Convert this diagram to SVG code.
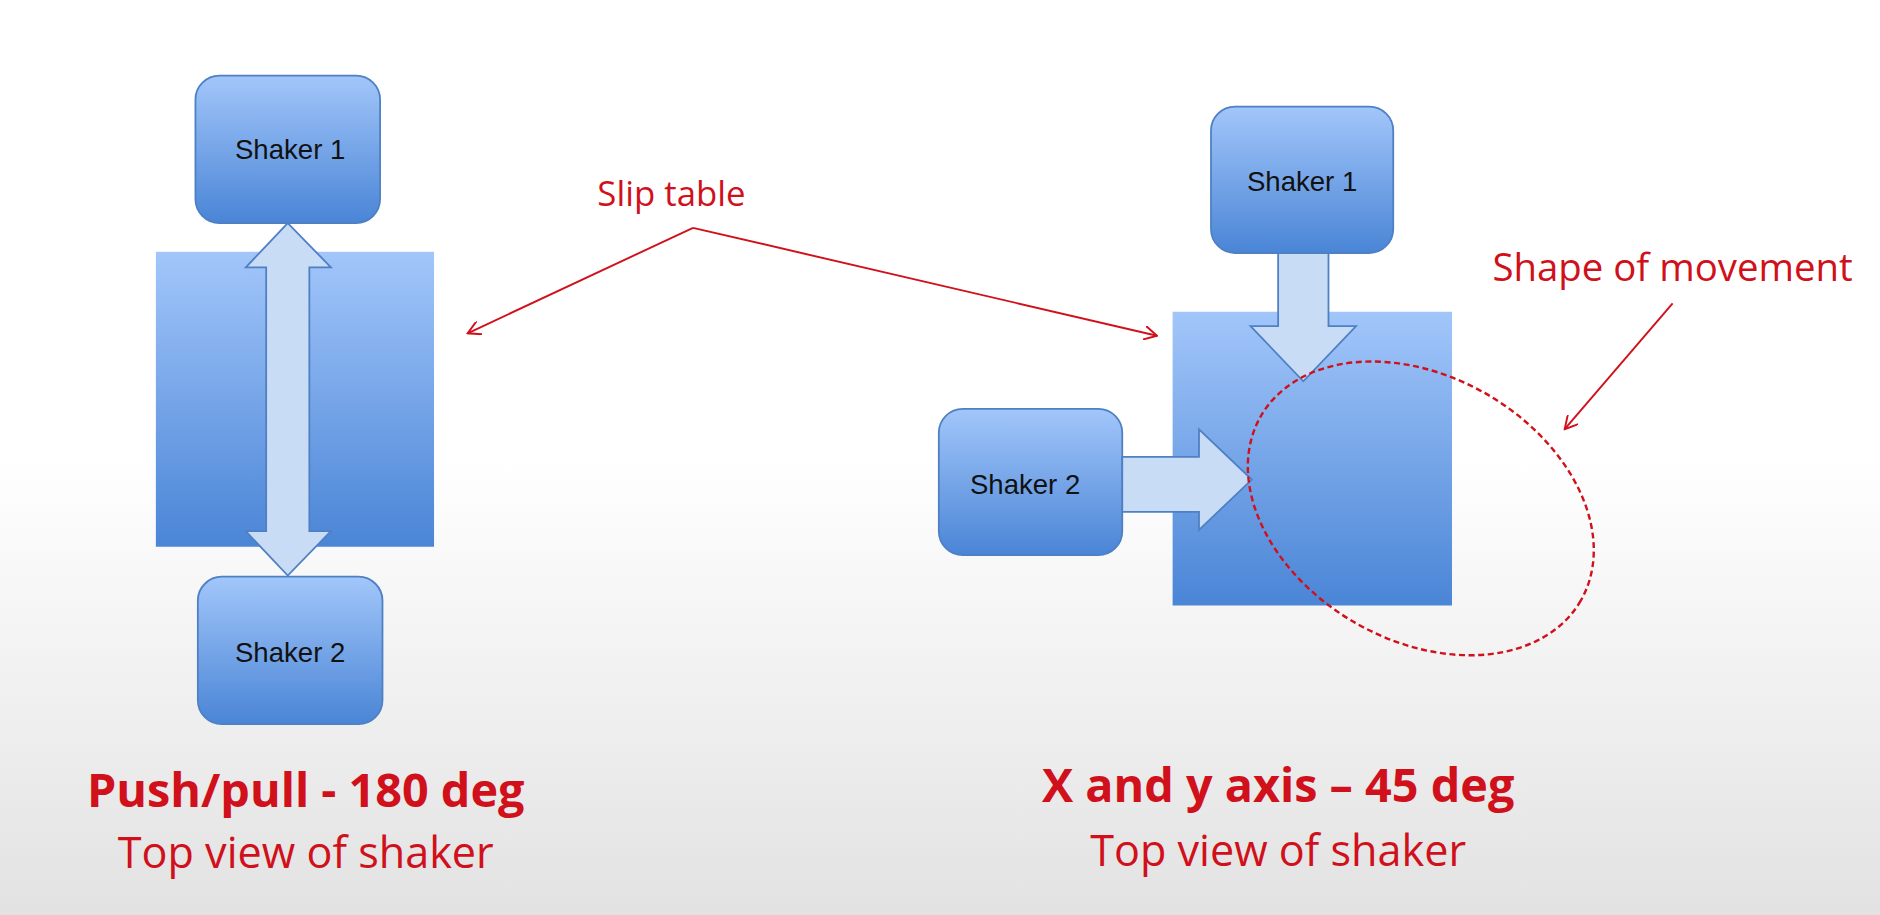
<svg xmlns="http://www.w3.org/2000/svg" width="1880" height="915" viewBox="0 0 1880 915">
<defs>
<linearGradient id="bg" x1="0" y1="0" x2="0" y2="1"><stop offset="0.5" stop-color="#ffffff"/><stop offset="1" stop-color="#e2e2e2"/></linearGradient>
<linearGradient id="blue" x1="0" y1="0" x2="0" y2="1"><stop offset="0" stop-color="#a2c6fa"/><stop offset="1" stop-color="#4a85d6"/></linearGradient>
<marker id="ah" viewBox="0 0 12 12" refX="11" refY="6" markerWidth="12" markerHeight="12" markerUnits="userSpaceOnUse" orient="auto"><path d="M0,0 L11,6 L0,12" fill="none" stroke="#d0101a" stroke-width="1.6"/></marker>
<style>
.box{fill:url(#blue);stroke:#4f80c4;stroke-width:1.5}
.tbl{fill:url(#blue);stroke:none}
.arr{fill:#c9dcf6;stroke:#4f80c4;stroke-width:1.5}
.lbl{font-family:"Liberation Sans",Arial,sans-serif;font-size:23px;fill:#111;text-anchor:middle}
.red{font-family:"Open Sans","Liberation Sans",sans-serif;fill:#d0101a;text-anchor:middle}
.ln{stroke:#d0101a;stroke-width:1.6;fill:none}
</style>
</defs>
<rect width="1880" height="915" fill="url(#bg)"/>
<g transform="scale(1.199)">
<g id="left-table"><rect class="tbl" x="130" y="210" width="232" height="246"/></g>
<g id="left-shaker1"><rect class="box" x="163" y="63" width="154" height="123" rx="20"/><text class="lbl" x="242" y="133">Shaker 1</text></g>
<g id="left-shaker2"><rect class="box" x="165" y="481" width="154" height="123" rx="20"/><text class="lbl" x="242" y="552">Shaker 2</text></g>
<g id="left-arrow"><path class="arr" d="M240,186 L276,223 L258,223 L258,443 L276,443 L240,480 L205,443 L222,443 L222,223 L205,223 Z"/></g>
<g id="right-table"><rect class="tbl" x="978" y="260" width="233" height="245"/></g>
<g id="right-shaker1"><rect class="box" x="1010" y="89" width="152" height="122" rx="20"/><text class="lbl" x="1086" y="159">Shaker 1</text></g>
<g id="right-shaker2"><rect class="box" x="783" y="341" width="153" height="122" rx="20"/><text class="lbl" x="855" y="412">Shaker 2</text></g>
<g id="arrow-down"><path class="arr" d="M1066,211 L1108,211 L1108,272 L1131,272 L1087,318 L1043,272 L1066,272 Z"/></g>
<g id="arrow-right"><path class="arr" d="M936,381 L1000,381 L1000,358 L1044,400 L1000,442 L1000,427 L936,427 Z"/></g>
<g id="movement"><ellipse cx="1185" cy="424" rx="154" ry="110" transform="rotate(30 1185 424)" fill="none" stroke="#d0101a" stroke-width="2" stroke-dasharray="5,3"/></g>
<g id="connectors">
<path class="ln" d="M578,190 L390,278" marker-end="url(#ah)"/>
<path class="ln" d="M578,190 L965,280" marker-end="url(#ah)"/>
<path class="ln" d="M1395,253 L1305,358" marker-end="url(#ah)"/>
</g>
<g id="texts">
<text class="red" x="560" y="172" font-size="29">Slip table</text>
<text class="red" x="1395" y="234" font-size="32">Shape of movement</text>
<text class="red" x="255" y="673" font-size="39" font-weight="bold">Push/pull - 180 deg</text>
<text class="red" x="255" y="724" font-size="36">Top view of shaker</text>
<text class="red" x="1066" y="669" font-size="39" font-weight="bold">X and y axis – 45 deg</text>
<text class="red" x="1066" y="722" font-size="36">Top view of shaker</text>
</g>
</g>
</svg>
